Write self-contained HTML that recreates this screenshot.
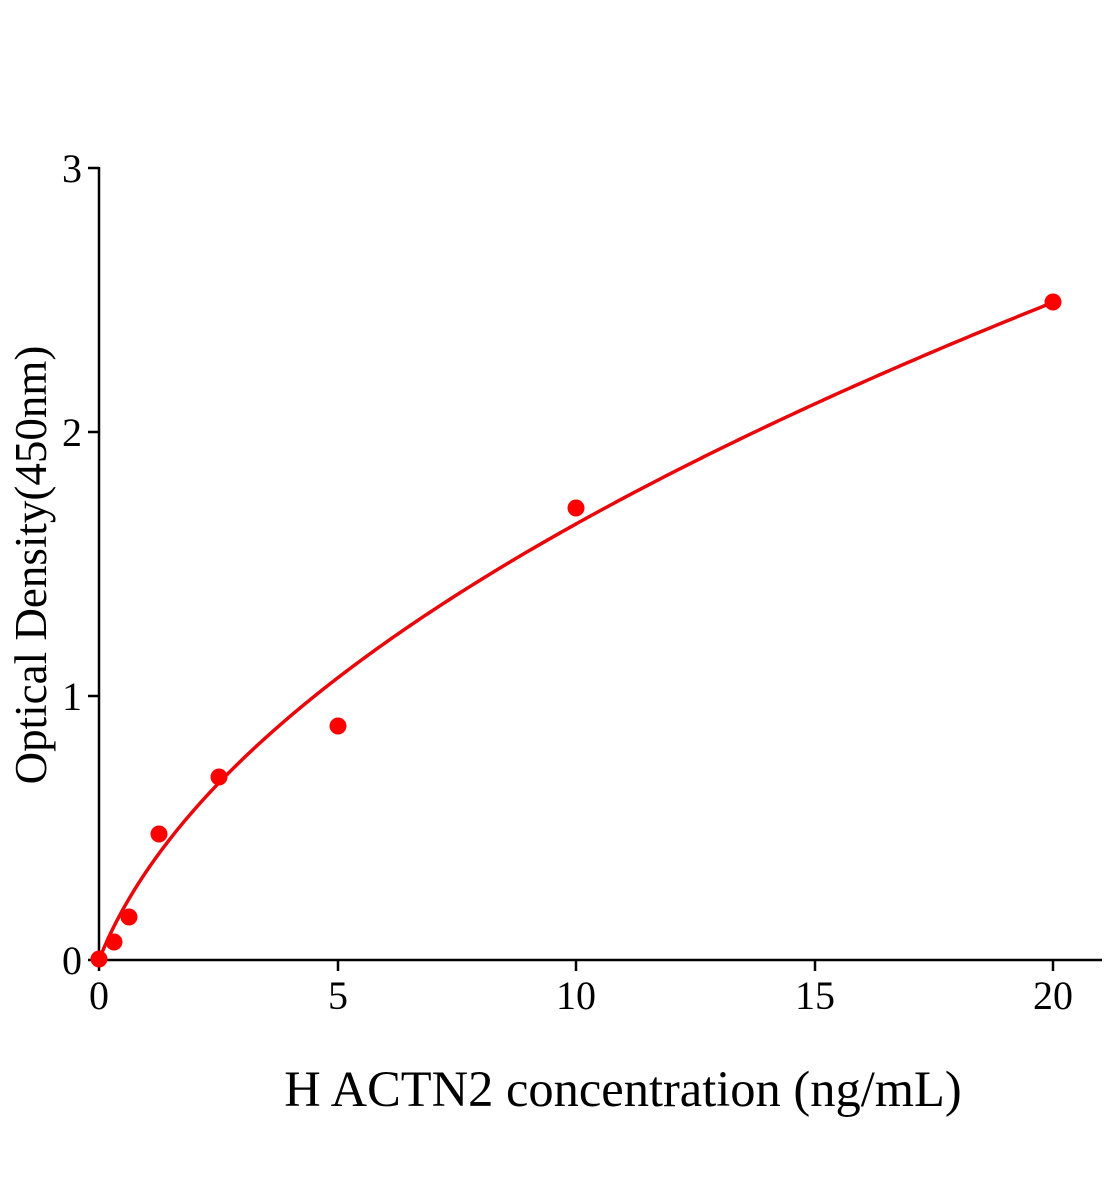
<!DOCTYPE html>
<html><head><meta charset="utf-8"><style>
body{margin:0;background:#fff;}
svg{display:block;font-family:"Liberation Serif",serif;}
</style></head><body>
<svg width="1104" height="1200" viewBox="0 0 1104 1200" xmlns="http://www.w3.org/2000/svg">
<g stroke="#000" stroke-width="2.5" fill="none">
<line x1="99" y1="167" x2="99" y2="961"/>
<line x1="98" y1="960" x2="1102" y2="960"/>
<line x1="88" y1="168" x2="99" y2="168"/>
<line x1="88" y1="432" x2="99" y2="432"/>
<line x1="88" y1="696" x2="99" y2="696"/>
<line x1="88" y1="960" x2="99" y2="960"/>
<line x1="99" y1="960" x2="99" y2="971"/>
<line x1="338" y1="960" x2="338" y2="971"/>
<line x1="576" y1="960" x2="576" y2="971"/>
<line x1="815" y1="960" x2="815" y2="971"/>
<line x1="1053" y1="960" x2="1053" y2="971"/>
</g>
<g font-size="40" fill="#000" text-anchor="end">
<text x="82" y="182">3</text>
<text x="82" y="446">2</text>
<text x="82" y="710">1</text>
<text x="82" y="974">0</text>
</g>
<g font-size="40" fill="#000" text-anchor="middle">
<text x="99" y="1009">0</text>
<text x="338" y="1009">5</text>
<text x="576" y="1009">10</text>
<text x="815" y="1009">15</text>
<text x="1053" y="1009">20</text>
</g>
<text x="623" y="1106" font-size="50.5" text-anchor="middle">H ACTN2 concentration (ng/mL)</text>
<text transform="translate(46,565) rotate(-90)" font-size="45" text-anchor="middle">Optical Density(450nm)</text>
<path id="curve" fill="none" stroke="#e8070b" stroke-width="3.5" d="M99 960 L129 899 L159 854 L219 784 L338 678 L576 524 L1053 302"/>
<g fill="#f00">
<circle cx="99" cy="959" r="8.5"/>
<circle cx="114" cy="942" r="8.5"/>
<circle cx="129" cy="917" r="8.5"/>
<circle cx="159" cy="834" r="8.5"/>
<circle cx="219" cy="777" r="8.5"/>
<circle cx="338" cy="726" r="8.5"/>
<circle cx="576" cy="508" r="8.5"/>
<circle cx="1053" cy="302" r="8.5"/>
</g>
<script>
(function(){
var a=0.652,c=0.5,s="";
for(var k=0;k<=600;k++){
var x=20*Math.pow(k/600,2);
var y=a*(Math.sqrt(x+c)-Math.sqrt(c));
s+=(k?"L":"M")+(99+x*47.7).toFixed(2)+" "+(960-y*264).toFixed(2);
}
document.getElementById("curve").setAttribute("d",s);
})();
</script>
</svg>
</body></html>
